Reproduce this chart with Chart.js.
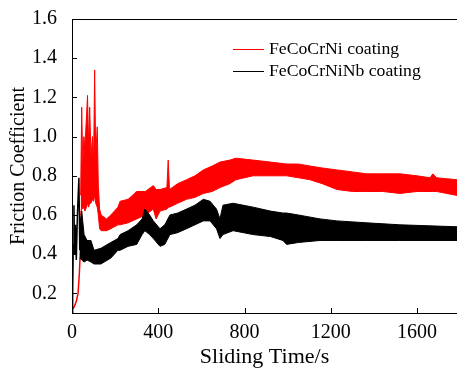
<!DOCTYPE html>
<html><head><meta charset="utf-8">
<script src="https://cdn.jsdelivr.net/npm/chart.js@4/dist/chart.umd.min.js"></script>
<style>html,body{margin:0;padding:0;background:#fff;}#wrap{width:457px;height:372px;}</style>
</head><body><div id="wrap"><canvas id="c" width="457" height="372"></canvas></div>
<script>
const seriesNames = ['FeCoCrNi coating', 'FeCoCrNiNb coating'];
const xTicks = [0, 400, 800, 1200, 1600];
const yTicks = [0.2, 0.4, 0.6, 0.8, 1.0, 1.2, 1.4, 1.6];

// FeCoCrNi (red) — initial rise
const redRiseTime  = [0, 10, 20, 28, 34, 40, 44];
const redRiseValue = [0.12, 0.13, 0.16, 0.2, 0.3, 0.45, 0.62];
// FeCoCrNi (red) — band (lower / upper envelope of the noisy trace)
const redBandTime = [40, 45, 50, 55, 60, 67, 72, 77, 82, 88, 95, 100, 105, 110, 117, 122, 128, 135, 160, 180, 213, 223, 260, 300, 340, 377, 390, 408, 440, 446, 452, 490, 531, 570, 609, 650, 686, 732, 760, 840, 920, 995, 1050, 1103, 1160, 1228, 1300, 1367, 1440, 1520, 1600, 1660, 1673, 1690, 1785];
const redBandLow  = [0.60, 0.64, 0.63, 0.64, 0.62, 0.64, 0.66, 0.64, 0.66, 0.66, 0.68, 0.67, 0.70, 0.66, 0.64, 0.60, 0.53, 0.52, 0.52, 0.53, 0.55, 0.55, 0.56, 0.58, 0.60, 0.63, 0.58, 0.62, 0.63, 0.64, 0.64, 0.66, 0.68, 0.69, 0.71, 0.72, 0.74, 0.76, 0.78, 0.80, 0.80, 0.80, 0.79, 0.78, 0.76, 0.73, 0.72, 0.72, 0.72, 0.71, 0.72, 0.72, 0.72, 0.72, 0.70];
const redBandHigh = [0.70, 1.15, 0.85, 1.00, 0.95, 1.10, 1.21, 0.95, 1.15, 0.90, 1.00, 0.85, 1.34, 0.90, 1.05, 0.75, 0.63, 0.60, 0.58, 0.60, 0.64, 0.67, 0.68, 0.72, 0.72, 0.75, 0.73, 0.73, 0.74, 0.88, 0.73, 0.76, 0.78, 0.80, 0.83, 0.85, 0.87, 0.88, 0.89, 0.88, 0.87, 0.86, 0.86, 0.85, 0.84, 0.83, 0.82, 0.81, 0.81, 0.81, 0.80, 0.79, 0.81, 0.79, 0.78];

// FeCoCrNiNb (black) — initial spikes
const blackRiseTime  = [0, 3, 6, 9, 12, 16, 20, 25, 32, 36];
const blackRiseValue = [0.1, 0.2, 0.45, 0.65, 0.4, 0.55, 0.37, 0.6, 0.79, 0.42];
// FeCoCrNiNb (black) — band (lower / upper envelope of the noisy trace)
const blackBandTime = [36, 45, 56, 70, 88, 102, 134, 180, 213, 223, 260, 300, 325, 338, 360, 377, 408, 430, 454, 490, 531, 570, 609, 640, 670, 686, 700, 747, 840, 920, 978, 995, 1050, 1150, 1228, 1367, 1520, 1785];
const blackBandLow  = [0.38, 0.37, 0.36, 0.37, 0.36, 0.35, 0.35, 0.38, 0.42, 0.42, 0.44, 0.45, 0.50, 0.52, 0.50, 0.48, 0.44, 0.45, 0.50, 0.51, 0.53, 0.55, 0.57, 0.57, 0.53, 0.48, 0.50, 0.52, 0.50, 0.49, 0.47, 0.45, 0.46, 0.47, 0.47, 0.47, 0.47, 0.47];
const blackBandHigh = [0.55, 0.62, 0.50, 0.47, 0.47, 0.42, 0.43, 0.46, 0.48, 0.50, 0.52, 0.55, 0.58, 0.63, 0.60, 0.57, 0.53, 0.55, 0.60, 0.61, 0.63, 0.65, 0.68, 0.67, 0.63, 0.58, 0.65, 0.66, 0.64, 0.62, 0.61, 0.61, 0.60, 0.58, 0.57, 0.56, 0.55, 0.54];

const RED = '#ff0000', BLACK = '#000000';
const pts = (xs, ys) => xs.map((x, i) => ({x: x, y: ys[i]}));
const base = {pointRadius: 0, borderWidth: 1, tension: 0, fill: false};

const datasets = [
  Object.assign({}, base, {label: seriesNames[1], data: pts(blackBandTime, blackBandHigh), borderColor: BLACK}),
  Object.assign({}, base, {label: seriesNames[1], data: pts(blackBandTime, blackBandLow), borderColor: BLACK, backgroundColor: BLACK, fill: '-1'}),
  Object.assign({}, base, {label: seriesNames[1], data: pts(blackRiseTime, blackRiseValue), borderColor: BLACK, borderWidth: 1.5}),
  Object.assign({}, base, {label: seriesNames[0], data: pts(redBandTime, redBandHigh), borderColor: RED}),
  Object.assign({}, base, {label: seriesNames[0], data: pts(redBandTime, redBandLow), borderColor: RED, backgroundColor: RED, fill: '-1'}),
  Object.assign({}, base, {label: seriesNames[0], data: pts(redRiseTime, redRiseValue), borderColor: RED, borderWidth: 1.5})
];

const FONT = '"Liberation Serif", "Times New Roman", serif';

const framePlugin = {
  id: 'frame',
  afterDraw(chart) {
    const ctx = chart.ctx, a = chart.chartArea;
    const xs = chart.scales.x, ys = chart.scales.y;
    ctx.save();
    ctx.strokeStyle = '#000'; ctx.lineWidth = 1;
    ctx.beginPath();
    ctx.moveTo(a.left, a.top + 0.5); ctx.lineTo(a.right, a.top + 0.5);
    xTicks.forEach(v => { const p = Math.round(xs.getPixelForValue(v)) + 0.5; ctx.moveTo(p, a.bottom); ctx.lineTo(p, a.bottom - 5); });
    yTicks.forEach(v => { const p = Math.round(ys.getPixelForValue(v)) + 0.5; ctx.moveTo(a.left, p); ctx.lineTo(a.left + 5, p); });
    ctx.stroke();
    const colors = [RED, BLACK];
    const lx0 = 233, lx1 = 264, tx = 269, ly = [49, 71];
    ctx.font = '17.7px ' + FONT; ctx.textBaseline = 'middle'; ctx.textAlign = 'left'; ctx.fillStyle = '#000';
    seriesNames.forEach((n, i) => {
      ctx.strokeStyle = colors[i]; ctx.lineWidth = 1;
      ctx.beginPath(); ctx.moveTo(lx0, ly[i] + 0.5); ctx.lineTo(lx1, ly[i] + 0.5); ctx.stroke();
      ctx.fillText(n, tx, ly[i]);
    });
    ctx.restore();
  }
};

new Chart(document.getElementById('c'), {
  type: 'line',
  data: {datasets: datasets},
  options: {
    responsive: false, animation: false,
    layout: {padding: {top: 13, left: 0, right: 0, bottom: 0}},
    plugins: {legend: {display: false}, tooltip: {enabled: false}},
    scales: {
      x: {
        type: 'linear', min: 0, max: 1785,
        grid: {display: false},
        border: {display: true, color: '#000', width: 1},
        afterBuildTicks: s => { s.ticks = xTicks.map(v => ({value: v})); },
        afterFit: s => { s.height = 59; },
        ticks: {color: '#000', font: {family: FONT, size: 20}, padding: 0, maxRotation: 0, autoSkip: false, callback: v => String(v)},
        title: {display: true, text: 'Sliding Time/s', color: '#000', font: {family: FONT, size: 22}, padding: {top: 0, bottom: 2}}
      },
      y: {
        type: 'linear', min: 0.1, max: 1.6,
        grid: {display: false},
        border: {display: true, color: '#000', width: 1},
        afterBuildTicks: s => { s.ticks = yTicks.map(v => ({value: v})); },
        afterFit: s => { s.width = 72; },
        ticks: {color: '#000', font: {family: FONT, size: 20}, padding: 7, callback: v => v.toFixed(1)},
        title: {display: true, text: 'Friction Coefficient', color: '#000', font: {family: FONT, size: 20}, padding: {top: 7, bottom: 0}}
      }
    }
  },
  plugins: [framePlugin]
});
</script></body></html>
